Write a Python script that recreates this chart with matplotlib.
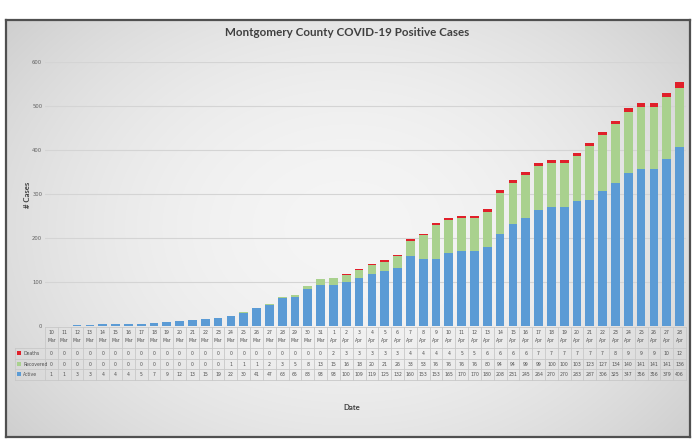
import numpy as np
import matplotlib
matplotlib.use('Agg')
import matplotlib.pyplot as plt
from matplotlib.transforms import blended_transform_factory
from matplotlib.lines import Line2D
from matplotlib.patches import Rectangle

days = [str(d) for d in range(10, 32)] + [str(d) for d in range(1, 29)]
months = ['Mar'] * 22 + ['Apr'] * 28
active = [1, 1, 3, 3, 4, 4, 4, 5, 7, 9, 12, 13, 15, 19, 22, 30, 41, 47, 63, 65,
          83, 93, 93, 100, 109, 119, 125, 132, 160, 153, 153, 165, 170, 170, 180, 208, 231, 245, 264, 270,
          270, 283, 287, 306, 325, 347, 356, 356, 379, 406]
recovered = [0] * 14 + [1, 1, 1, 2, 3, 5, 8, 13,
             15, 16, 18, 20, 21, 26, 33, 53, 76, 76, 76, 76, 80, 94, 94, 99, 99, 100, 100, 103,
             123, 127, 134, 140, 141, 141, 141, 136]
deaths = [0] * 22 + [2, 3, 3, 3, 3, 3, 4, 4, 4, 4, 5, 5, 6, 6, 6, 6, 7, 7, 7, 7, 7, 7, 8, 9, 9, 9, 10, 12]
series_names = ['Deaths', 'Recovered', 'Active']
colors = {'Active': '#5B9BD5', 'Recovered': '#A9D18E', 'Deaths': '#E0202A'}

W, H = 694, 444
fig = plt.figure(figsize=(W / 100, H / 100), dpi=100)
fig.patch.set_facecolor('white')

def fx(px):
    return px / W

def fy(py):
    return 1 - py / H

# background frame with gradient
bg = fig.add_axes([fx(6), fy(437), fx(690) - fx(6), fy(20) - fy(437)])
yy, xx = np.mgrid[-1:1:200j, -1:1:300j]
v = 0.96 - 0.09 * xx ** 2 - 0.06 * yy ** 2
img = np.dstack([v, v, v])
bg.imshow(img, aspect='auto', extent=[0, 1, 0, 1], interpolation='bilinear')
bg.set_xlim(0, 1); bg.set_ylim(0, 1)
bg.set_xticks([]); bg.set_yticks([])
for s in bg.spines.values():
    s.set_color('#505050'); s.set_linewidth(1.6)
bg.set_zorder(0)

ax = fig.add_axes([fx(45), fy(326), fx(686) - fx(45), fy(62) - fy(326)])
ax.set_zorder(1)
ax.patch.set_alpha(0)
x = np.arange(len(days))
a = np.array(active); r = np.array(recovered); d = np.array(deaths)
ax.bar(x, a, width=0.68, color=colors['Active'], zorder=3)
ax.bar(x, r, bottom=a, width=0.68, color=colors['Recovered'], zorder=3)
ax.bar(x, d, bottom=a + r, width=0.68, color=colors['Deaths'], zorder=3)
ax.set_xlim(-0.5, len(days) - 0.5)
ax.set_ylim(0, 600)
ax.set_yticks(range(0, 601, 100))
ax.yaxis.grid(True, color='#d4d4d4', linewidth=0.8, zorder=0)
ax.tick_params(axis='y', length=0, labelsize=3.8, labelcolor='#606060', pad=2)
ax.set_xticks([])
for s in ax.spines.values():
    s.set_visible(False)

fig.text(fx(347), fy(32), 'Montgomery County COVID-19 Positive Cases', ha='center', va='center',
         fontsize=8.4, fontweight='bold', color='#404040', family='Lato')
fig.text(fx(27), fy(195), '# Cases', rotation=90, ha='center', va='center',
         fontsize=5.6, fontweight='bold', color='#404040', family='Lato')
fig.text(fx(352), fy(407), 'Date', ha='center', va='center',
         fontsize=5.6, fontweight='bold', color='#404040', family='Lato')

# data table
tr = blended_transform_factory(ax.transData, fig.transFigure)
tc = '#505050'
fs = 3.3
row_y = {'Deaths': 353, 'Recovered': 364, 'Active': 374}
vals = {'Deaths': deaths, 'Recovered': recovered, 'Active': active}
for i in x:
    fig.text(i, fy(332), days[i], transform=tr, ha='center', va='center', fontsize=fs, color=tc)
    fig.text(i, fy(340.5), months[i], transform=tr, ha='center', va='center', fontsize=fs, color=tc)
    for name in series_names:
        fig.text(i, fy(row_y[name]), str(vals[name][i]), transform=tr, ha='center', va='center',
                 fontsize=fs, color=tc)

lc = '#c8c8c8'
for k in range(len(days) + 1):
    fig.add_artist(Line2D([k - 0.5, k - 0.5], [fy(327), fy(380)], transform=tr, color=lc, lw=0.6))
for py in [327, 347.5, 358.5, 369, 380]:
    fig.add_artist(Line2D([-0.5, len(days) - 0.5], [fy(py), fy(py)], transform=tr, color=lc, lw=0.6))
for py in [347.5, 358.5, 369, 380]:
    fig.add_artist(Line2D([fx(15), fx(45)], [fy(py), fy(py)], transform=fig.transFigure, color=lc, lw=0.6))
fig.add_artist(Line2D([fx(15), fx(15)], [fy(347.5), fy(380)], transform=fig.transFigure, color=lc, lw=0.6))

for name in series_names:
    yc = row_y[name]
    fig.add_artist(Rectangle((fx(17), fy(yc + 2)), fx(4), 4 / H, transform=fig.transFigure,
                             facecolor=colors[name], edgecolor='none'))
    fig.text(fx(23), fy(yc), name, ha='left', va='center', fontsize=3.3, color=tc)

fig.savefig('out.png', dpi=100)
